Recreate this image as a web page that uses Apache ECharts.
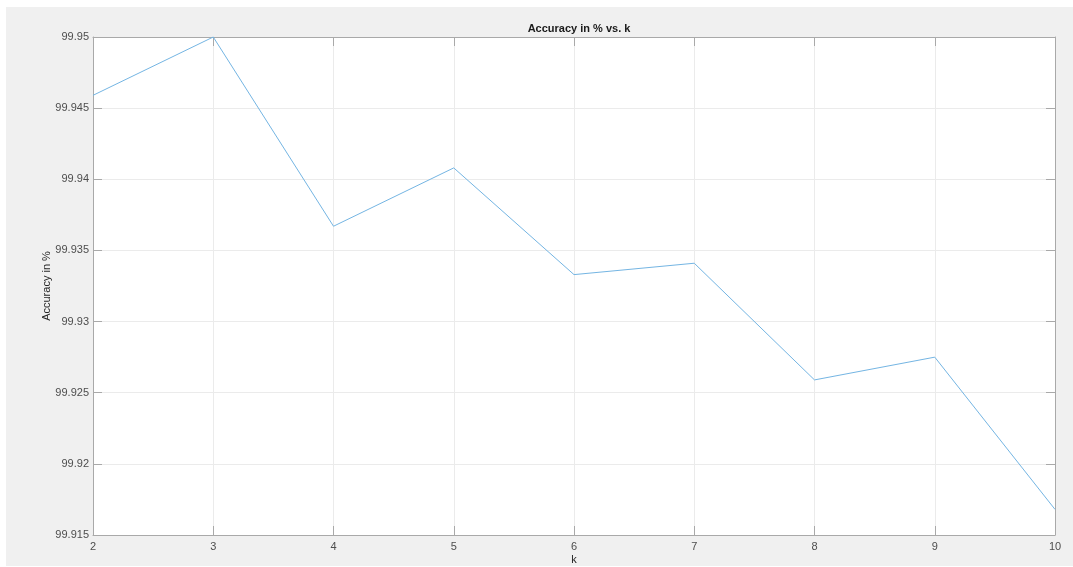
<!DOCTYPE html>
<html>
<head>
<meta charset="utf-8">
<script src="https://cdn.jsdelivr.net/npm/echarts@6/dist/echarts.min.js"></script>
<style>
  html, body { margin: 0; padding: 0; background: #ffffff; }
  #chart { position: absolute; left: 6px; top: 7px; width: 1067px; height: 559px; background: #f0f0f0; }
</style>
</head>
<body>
<div id="chart"></div>
<script>
// k values and the measured accuracy (%) for each
const kValues = [2, 3, 4, 5, 6, 7, 8, 9, 10];
const accuracy = [99.9459, 99.9500, 99.9367, 99.9408, 99.9333, 99.9341, 99.9259, 99.9275, 99.9168];

// axis ranges
const kMin = 2, kMax = 10, kStep = 1;
const accMin = 99.915, accMax = 99.95, accStep = 0.005;

const FONT = '"Liberation Sans", Arial, Helvetica, sans-serif';
const AXIS_COLOR = '#a9a9a9';
const GRID_COLOR = '#ebebeb';
const LABEL_COLOR = '#4d4d4d';

const fmt = v => String(parseFloat(v.toFixed(3)));

const chart = echarts.init(document.getElementById('chart'), null, { renderer: 'canvas' });

const boxAxisX = {
  type: 'value', min: kMin, max: kMax, interval: kStep, position: 'top',
  axisLine: { show: true, lineStyle: { color: AXIS_COLOR, width: 1 } },
  axisTick: { show: true, inside: true, length: 9, lineStyle: { color: AXIS_COLOR } },
  axisLabel: { show: false }, splitLine: { show: false }
};
const boxAxisY = {
  type: 'value', min: accMin, max: accMax, interval: accStep, position: 'right',
  axisLine: { show: true, lineStyle: { color: AXIS_COLOR, width: 1 } },
  axisTick: { show: true, inside: true, length: 9, lineStyle: { color: AXIS_COLOR } },
  axisLabel: { show: false }, splitLine: { show: false }
};

chart.setOption({
  animation: false,
  backgroundColor: 'transparent',
  title: {
    text: 'Accuracy in % vs. k',
    left: 568, top: 11, textAlign: 'center',
    textStyle: { fontFamily: FONT, fontSize: 11, fontWeight: 'bold', color: '#1a1a1a' }
  },
  grid: { left: 87, top: 30, right: 18, bottom: 31, containLabel: false,
          outerBoundsMode: 'none',
          show: true, backgroundColor: '#ffffff', borderWidth: 0 },
  xAxis: [{
    type: 'value', min: kMin, max: kMax, interval: kStep, position: 'bottom',
    name: 'k', nameLocation: 'middle', nameGap: 19, nameMoveOverlap: false,
    nameTextStyle: { fontFamily: FONT, fontSize: 11, color: '#262626' },
    axisLine: { show: true, onZero: false, lineStyle: { color: AXIS_COLOR, width: 1 } },
    axisTick: { show: true, inside: true, length: 9, lineStyle: { color: AXIS_COLOR } },
    axisLabel: { fontFamily: FONT, fontSize: 11, color: LABEL_COLOR, margin: 6, formatter: v => String(v) },
    splitLine: { show: true, lineStyle: { color: GRID_COLOR, width: 1 } }
  }, boxAxisX],
  yAxis: [{
    type: 'value', min: accMin, max: accMax, interval: accStep, position: 'left',
    name: 'Accuracy in %', nameLocation: 'middle', nameGap: 41, nameRotate: 90, nameMoveOverlap: false,
    nameTextStyle: { fontFamily: FONT, fontSize: 11, color: '#262626' },
    axisLine: { show: true, onZero: false, lineStyle: { color: AXIS_COLOR, width: 1 } },
    axisTick: { show: true, inside: true, length: 9, lineStyle: { color: AXIS_COLOR } },
    axisLabel: { fontFamily: FONT, fontSize: 11, color: LABEL_COLOR, margin: 4, formatter: fmt },
    splitLine: { show: true, lineStyle: { color: GRID_COLOR, width: 1 } }
  }, boxAxisY],
  series: [{
    type: 'line',
    xAxisIndex: 0, yAxisIndex: 0,
    data: kValues.map((k, i) => [k, accuracy[i]]),
    showSymbol: false, symbol: 'none',
    lineStyle: { color: '#74b5e3', width: 1 },
    clip: false
  }]
});
</script>
</body>
</html>
